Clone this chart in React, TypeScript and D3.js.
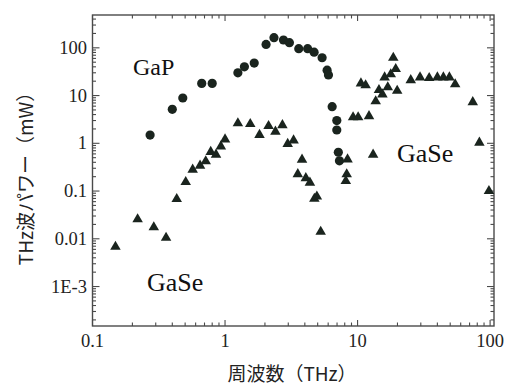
import React from "react";
import * as d3 from "d3";

const gapX = [0.272, 0.40, 0.48, 0.667, 0.80, 1.25, 1.40, 1.66, 2.04, 2.34, 2.76, 3.06, 3.60, 4.2, 4.7, 5.4, 5.89, 6.03, 6.43, 6.97, 6.97, 7.16, 7.30];
const gapY = [1.49, 5.15, 8.9, 18, 18, 30, 40, 48, 118, 163, 146, 128, 96, 96, 81, 62, 34, 27, 5.85, 3.0, 1.9, 0.65, 0.43];

const gaseX = [0.149, 0.219, 0.29, 0.359, 0.432, 0.505, 0.57, 0.648, 0.715, 0.78, 0.855, 0.93, 1.0, 1.25, 1.55, 1.82, 2.13, 2.40, 2.71, 2.97, 3.29, 3.81, 3.54, 4.07, 4.37, 4.72, 4.93, 5.27, 8.4, 8.28, 8.15, 9.25, 10.1, 12.2, 13.1, 10.6, 11.5, 13.7, 14.5, 15.4, 16.9, 16.0, 17.8, 19.4, 18.6, 19.9, 25.2, 29.6, 34.7, 40, 44.4, 49.3, 54.5, 74, 83, 98];
const gaseY = [0.0068, 0.0256, 0.0174, 0.0105, 0.068, 0.155, 0.28, 0.34, 0.42, 0.66, 0.58, 0.86, 1.21, 2.62, 2.54, 1.5, 2.3, 1.75, 2.4, 0.97, 1.15, 0.455, 0.226, 0.186, 0.15, 0.069, 0.077, 0.014, 0.46, 0.224, 0.162, 3.5, 3.5, 3.7, 0.58, 18, 16.4, 7.6, 13.1, 10.6, 14.9, 24, 28, 36, 62, 12.6, 21, 24, 23.3, 24, 24, 24, 17.2, 7.3, 1.03, 0.10];

const xTickValues = [0.1, 1, 10, 100];
const xTickLabels = ["0.1", "1", "10", "100"];
const yTickValues = [100, 10, 1, 0.1, 0.01, 0.001];
const yTickLabels = ["100", "10", "1", "0.1", "0.01", "1E-3"];

const xTitle = "周波数（THz）";
const yTitle = "THz波パワー（mW）";

export default function App() {
  const W = 509, H = 386;
  const L = 92.5, R = 494, T = 15, B = 326;
  const x = d3.scaleLog().domain([0.1, 107]).range([L, R]);
  const y = d3.scaleLog().domain([1.49e-4, 487]).range([B, T]);

  const ink = "#1a241e";
  const frame = "#4a4a4a";

  // minor/major ticks
  const xTicks: { v: number; major: boolean }[] = [];
  for (let e = -1; e <= 2; e++) {
    for (let m = 1; m <= 9; m++) {
      const v = m * Math.pow(10, e);
      if (v >= 0.1 && v <= 107) xTicks.push({ v, major: m === 1 });
    }
  }
  const yTicks: { v: number; major: boolean }[] = [];
  for (let e = -4; e <= 2; e++) {
    for (let m = 1; m <= 9; m++) {
      const v = m * Math.pow(10, e);
      if (v >= 1.49e-4 && v <= 487) yTicks.push({ v, major: m === 1 });
    }
  }
  const tri = d3.symbol().type(d3.symbolTriangle).size(48)();
  const serif = "'Liberation Serif', 'Times New Roman', serif";
  const sans = "'Noto Sans CJK JP', 'Noto Sans', sans-serif";

  return (
    <svg width={W} height={H} style={{ position: "absolute", left: 0, top: 0, background: "#fff" }}>
      <rect x={L} y={T} width={R - L} height={B - T} fill="none" stroke={frame} strokeWidth={1.4} />
      {xTicks.map((t, i) => {
        const px = x(t.v);
        const len = t.major ? 6 : 3.5;
        return (
          <g key={"xt" + i} stroke={frame} strokeWidth={1.1}>
            <line x1={px} x2={px} y1={B} y2={B - len} />
            <line x1={px} x2={px} y1={T} y2={T + len} />
          </g>
        );
      })}
      {yTicks.map((t, i) => {
        const py = y(t.v);
        const len = t.major ? 7 : 3.5;
        return (
          <g key={"yt" + i} stroke={frame} strokeWidth={1.1}>
            <line x1={L} x2={L + len} y1={py} y2={py} />
            <line x1={R} x2={R - len} y1={py} y2={py} />
          </g>
        );
      })}
      {xTickValues.map((v, i) => (
        <text key={"xl" + i} x={x(v)} y={347} textAnchor="middle" fontFamily={serif} fontSize={18.5} fill="#222">
          {xTickLabels[i]}
        </text>
      ))}
      {yTickValues.map((v, i) => (
        <text key={"yl" + i} x={87} y={y(v) + 6} textAnchor="end" fontFamily={serif} fontSize={18.5} fill="#222">
          {yTickLabels[i]}
        </text>
      ))}
      <text x={292} y={381} textAnchor="middle" fontFamily={sans} fontSize={19} fill="#222">{xTitle}</text>
      <text transform={`translate(33,174) rotate(-90)`} textAnchor="middle" fontFamily={sans} fontSize={19} fill="#222">{yTitle}</text>

      <text x={133} y={75} fontFamily={serif} fontSize={24} fill="#111">GaP</text>
      <text x={397} y={162} fontFamily={serif} fontSize={26} fill="#111">GaSe</text>
      <text x={147} y={291} fontFamily={serif} fontSize={26} fill="#111">GaSe</text>

      {gapX.map((v, i) => (
        <circle key={"c" + i} cx={x(v)} cy={y(gapY[i])} r={4.6} fill={ink} />
      ))}
      {gaseX.map((v, i) => (
        <path key={"t" + i} d={tri as string} transform={`translate(${x(v)},${y(gaseY[i])})`} fill={ink} />
      ))}
    </svg>
  );
}
